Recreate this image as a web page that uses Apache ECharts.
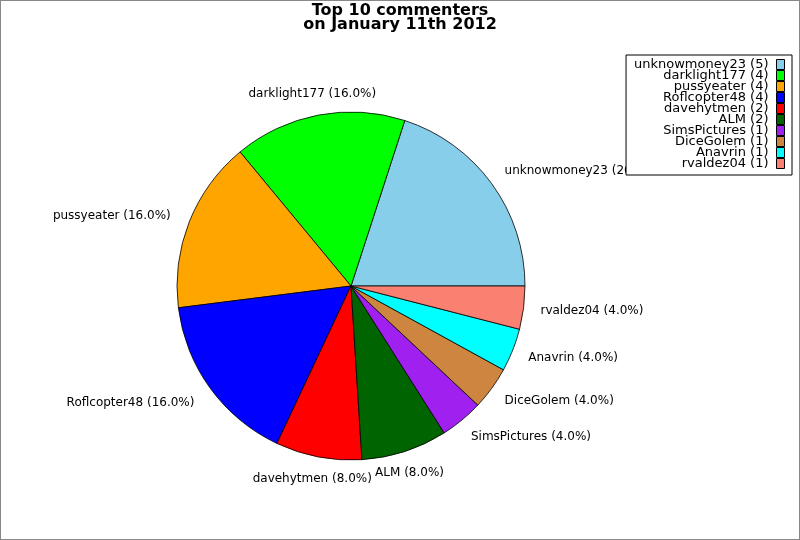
<!DOCTYPE html>
<html lang="en">
<head>
<meta charset="UTF-8">
<title>Top 10 commenters</title>
<style>
  * { margin: 0; }
  html, body { width: 800px; height: 540px; background: #fff; }
  #chart { width: 800px; height: 540px; box-sizing: border-box; border: 1px solid #888; }
</style>
<script src="https://cdn.jsdelivr.net/npm/echarts@6/dist/echarts.min.js"></script>
</head>
<body>
<div id="chart"></div>
<script>
  // commenters and comment counts
  const names = ['unknowmoney23', 'darklight177', 'pussyeater', 'Roflcopter48', 'davehytmen',
                 'ALM', 'SimsPictures', 'DiceGolem', 'Anavrin', 'rvaldez04'];
  const counts = [5, 4, 4, 4, 2, 2, 1, 1, 1, 1];
  const colors = ['#87CEEB', '#00FF00', '#FFA500', '#0000FF', '#FF0000',
                  '#006400', '#A020F0', '#CD853F', '#00FFFF', '#FA8072'];

  const total = counts.reduce((a, b) => a + b, 0);
  const font = 'DejaVu Sans';

  // mid angle of each slice (counter-clockwise from 3 o'clock), used to centre labels near top/bottom
  let acc = 0;
  const midAngle = counts.map(v => {
    const a = (acc + v / 2) / total * Math.PI * 2;
    acc += v;
    return a;
  });

  let chart = echarts.init(document.getElementById('chart'));
  chart.setOption({
    animation: false,
    color: colors,
    title: {
      text: 'Top 10 commenters\non January 11th 2012',
      left: 'center',
      top: 3,
      padding: 0,
      textStyle: { fontFamily: font, fontSize: 16, fontWeight: 'bold', color: '#000', lineHeight: 14 }
    },
    legend: {
      orient: 'vertical',
      align: 'right',
      right: 7,
      top: 54,
      padding: [3, 7, 5, 8],
      itemGap: -2,
      itemWidth: 8,
      itemHeight: 10,
      icon: 'rect',
      borderColor: '#000',
      borderWidth: 1,
      backgroundColor: '#fff',
      itemStyle: { borderColor: '#000', borderWidth: 1 },
      textStyle: { fontFamily: font, fontSize: 13, color: '#000', padding: [0, 3, 0, 0] },
      formatter: function (name) {
        return name + ' (' + counts[names.indexOf(name)] + ')';
      },
      data: names
    },
    series: [{
      type: 'pie',
      center: [350, 285],
      radius: 174,
      startAngle: 0,
      clockwise: false,
      avoidLabelOverlap: false,
      silent: true,
      itemStyle: { borderColor: '#000', borderWidth: 0.8 },
      label: {
        show: true,
        position: 'outside',
        distanceToLabelLine: 0,
        bleedMargin: 0,
        fontFamily: font,
        fontSize: 12,
        color: '#000',
        formatter: function (p) {
          return p.name + ' (' + (p.value / total * 100).toFixed(1) + '%)';
        }
      },
      labelLine: { show: false, length: 22, length2: 0 },
      labelLayout: function (params) {
        const c = Math.cos(midAngle[params.dataIndex]);
        if (Math.abs(c) < 0.5) return { align: 'center', dx: -2 };
        if (c > 0) return { dx: -5 };
        return { dx: 2, dy: 2 };
      },
      data: names.map((n, i) => ({ name: n, value: counts[i] }))
    }]
  });
</script>
</body>
</html>
